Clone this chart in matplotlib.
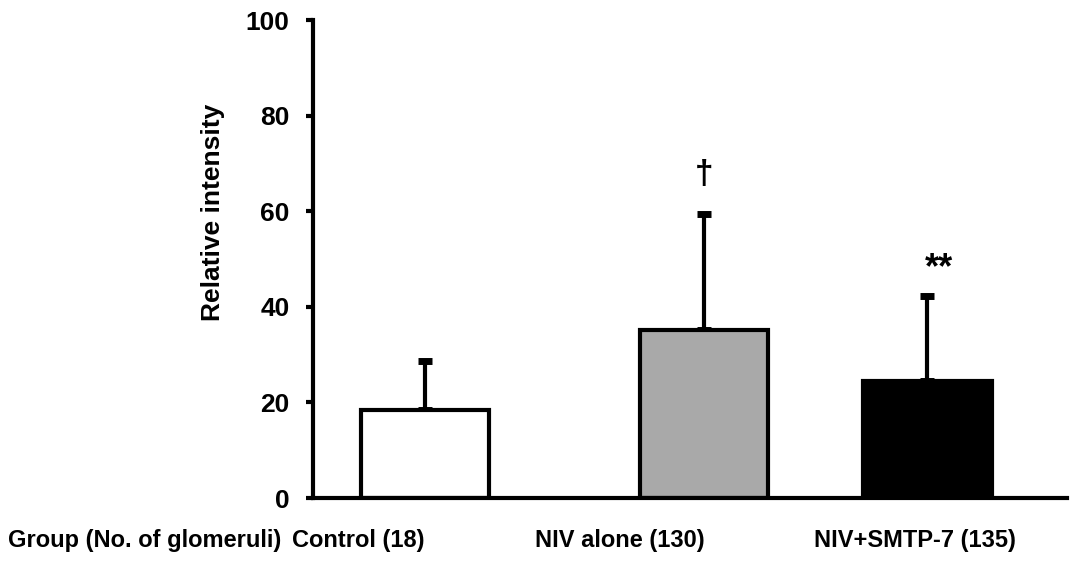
import matplotlib
matplotlib.use("Agg")
import matplotlib.pyplot as plt

plt.rcParams["font.family"] = ["Liberation Sans", "DejaVu Sans"]
plt.rcParams["font.weight"] = "bold"

groups = ["Control (18)", "NIV alone (130)", "NIV+SMTP-7 (135)"]
means = [18.4, 35.1, 24.5]
sds = [10.3, 24.3, 17.8]
marks = ["", "\u2020", "**"]
yticks = [0, 20, 40, 60, 80, 100]

# layout
xpos = [0, 1, 1.8]
colors = ["white", "#a9a9a9", "black"]
label_x = [358, 620, 915]   # pixel centres of category labels

fig = plt.figure(figsize=(10.91, 5.61), dpi=100)
ax = fig.add_axes([313 / 1091, 1 - 498 / 561, (1067 - 313) / 1091, (498 - 20) / 561])

ax.bar(xpos, means, width=0.46, color=colors, edgecolor="black", linewidth=3, zorder=2)
ax.errorbar(xpos, means, yerr=[[0] * 3, sds], fmt="none", ecolor="black",
            elinewidth=3, capsize=5, capthick=5, zorder=1)

for x, m, s, t in zip(xpos, means, sds, marks):
    if t == "**":
        ax.text(x + 0.04, m + s + 2, t, ha="center", va="bottom",
                fontsize=26, fontweight="bold")
    elif t:
        ax.text(x, m + s + 5, t, ha="center", va="bottom",
                fontsize=24, fontweight="bold")

ax.set_xlim(-0.401, 2.30)
ax.set_ylim(0, 100)
ax.set_yticks(yticks)
ax.set_yticklabels([str(v) for v in yticks], fontsize=19, fontweight="bold")
ax.set_xticks([])
ax.tick_params(axis="y", direction="out", length=5, width=3, pad=12)
for side in ["top", "right"]:
    ax.spines[side].set_visible(False)
ax.spines["left"].set_linewidth(3)
ax.spines["bottom"].set_linewidth(3)
ax.set_ylabel("Relative intensity", fontsize=19, fontweight="bold")
ax.yaxis.set_label_coords(-0.117, 0.598)

fig.text(8 / 1091, 1 - 540 / 561, "Group (No. of glomeruli)", ha="left", va="center",
         fontsize=17, fontweight="bold")
for lx, g in zip(label_x, groups):
    fig.text(lx / 1091, 1 - 540 / 561, g, ha="center", va="center",
             fontsize=17, fontweight="bold")

fig.savefig("out.png", dpi=100, facecolor="white")
